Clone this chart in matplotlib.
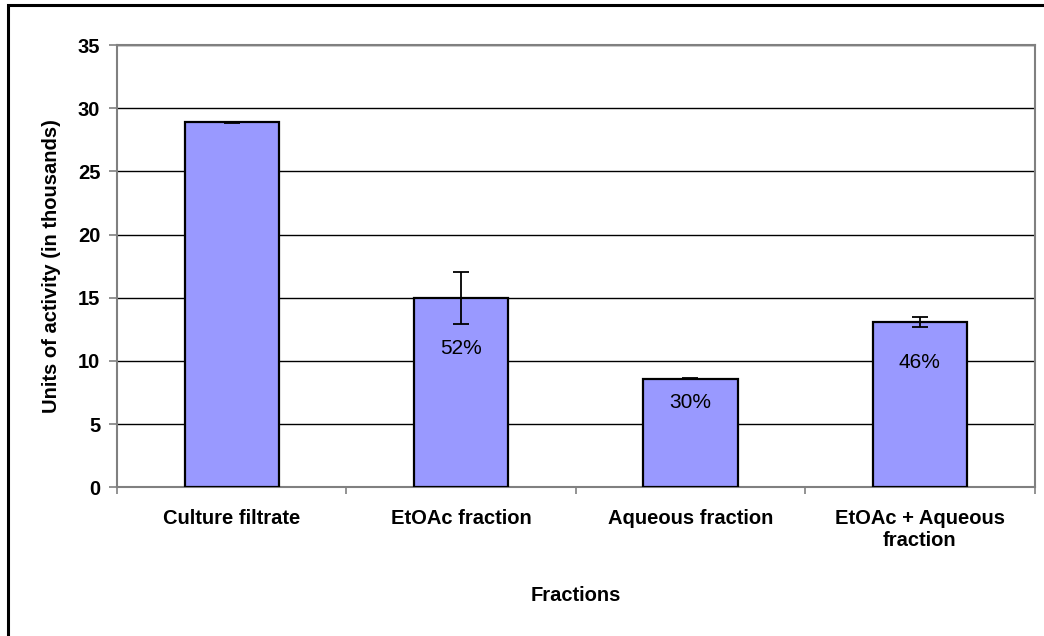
"""
Units of activity per fraction, bar chart with error bars.
"""
import matplotlib
matplotlib.use("Agg")
import matplotlib.pyplot as plt
from matplotlib.patches import Rectangle
import numpy as np

plt.rcParams["font.family"] = ["Liberation Sans", "DejaVu Sans"]

categories = ["Culture filtrate", "EtOAc fraction", "Aqueous fraction", "EtOAc + Aqueous\nfraction"]
activity = [28.9, 14.95, 8.6, 13.1]
errors = [0.05, 2.05, 0.05, 0.4]
pct_labels = ["", "52%", "30%", "46%"]
yticks = [0, 5, 10, 15, 20, 25, 30, 35]

fig = plt.figure(figsize=(10.44, 6.36), dpi=100)
ax = fig.add_axes([0.112, 0.234, 0.879, 0.695])

x = np.arange(len(categories))
ax.bar(x, activity, width=0.41, color="#9999ff", edgecolor="black", linewidth=1.6, zorder=3)
ax.errorbar(x, activity, yerr=errors, fmt="none", ecolor="black", elinewidth=1.3,
            capsize=5.5, capthick=1.3, zorder=4)

# percentage labels sit a little below each bar top
label_drop = [0, 36, 17, 29]
for xi, val, lab, d in zip(x, activity, pct_labels, label_drop):
    if lab:
        ax.annotate(lab, (xi, val), xytext=(0, -d), textcoords="offset points",
                    ha="center", va="center", fontsize=15, zorder=5)

ax.set_xlim(-0.5, len(categories) - 0.5)
ax.set_ylim(0, 35)
ax.set_yticks(yticks)
ax.set_yticklabels([str(t) for t in yticks], fontsize=14.5, fontweight="bold")
ax.yaxis.grid(True, color="black", linewidth=1.0, zorder=0)
ax.set_axisbelow(True)

ax.set_xticks(x)
ax.set_xticklabels(categories, fontsize=14.5, fontweight="bold", linespacing=1.15)
ax.set_xticks(np.arange(len(categories) + 1) - 0.5, minor=True)
ax.tick_params(axis="x", which="major", length=0, pad=16)
ax.tick_params(axis="x", which="minor", length=5, color="#808080", width=1.2)
ax.tick_params(axis="y", length=6, color="#808080", width=1.2, pad=6)

for s in ax.spines.values():
    s.set_color("#808080")
    s.set_linewidth(1.5)

ax.set_ylabel("Units of activity (in thousands)", fontsize=14.5, fontweight="bold", labelpad=12)
ax.set_xlabel("Fractions", fontsize=14.5, fontweight="bold", labelpad=26)

# outer chart border
fig.patches.append(Rectangle((8 / 1044, -0.05), 1.1, 1.05 - 5 / 636, transform=fig.transFigure,
                             fill=False, edgecolor="black", linewidth=2.2, zorder=10))

fig.savefig("out.png", dpi=100)
